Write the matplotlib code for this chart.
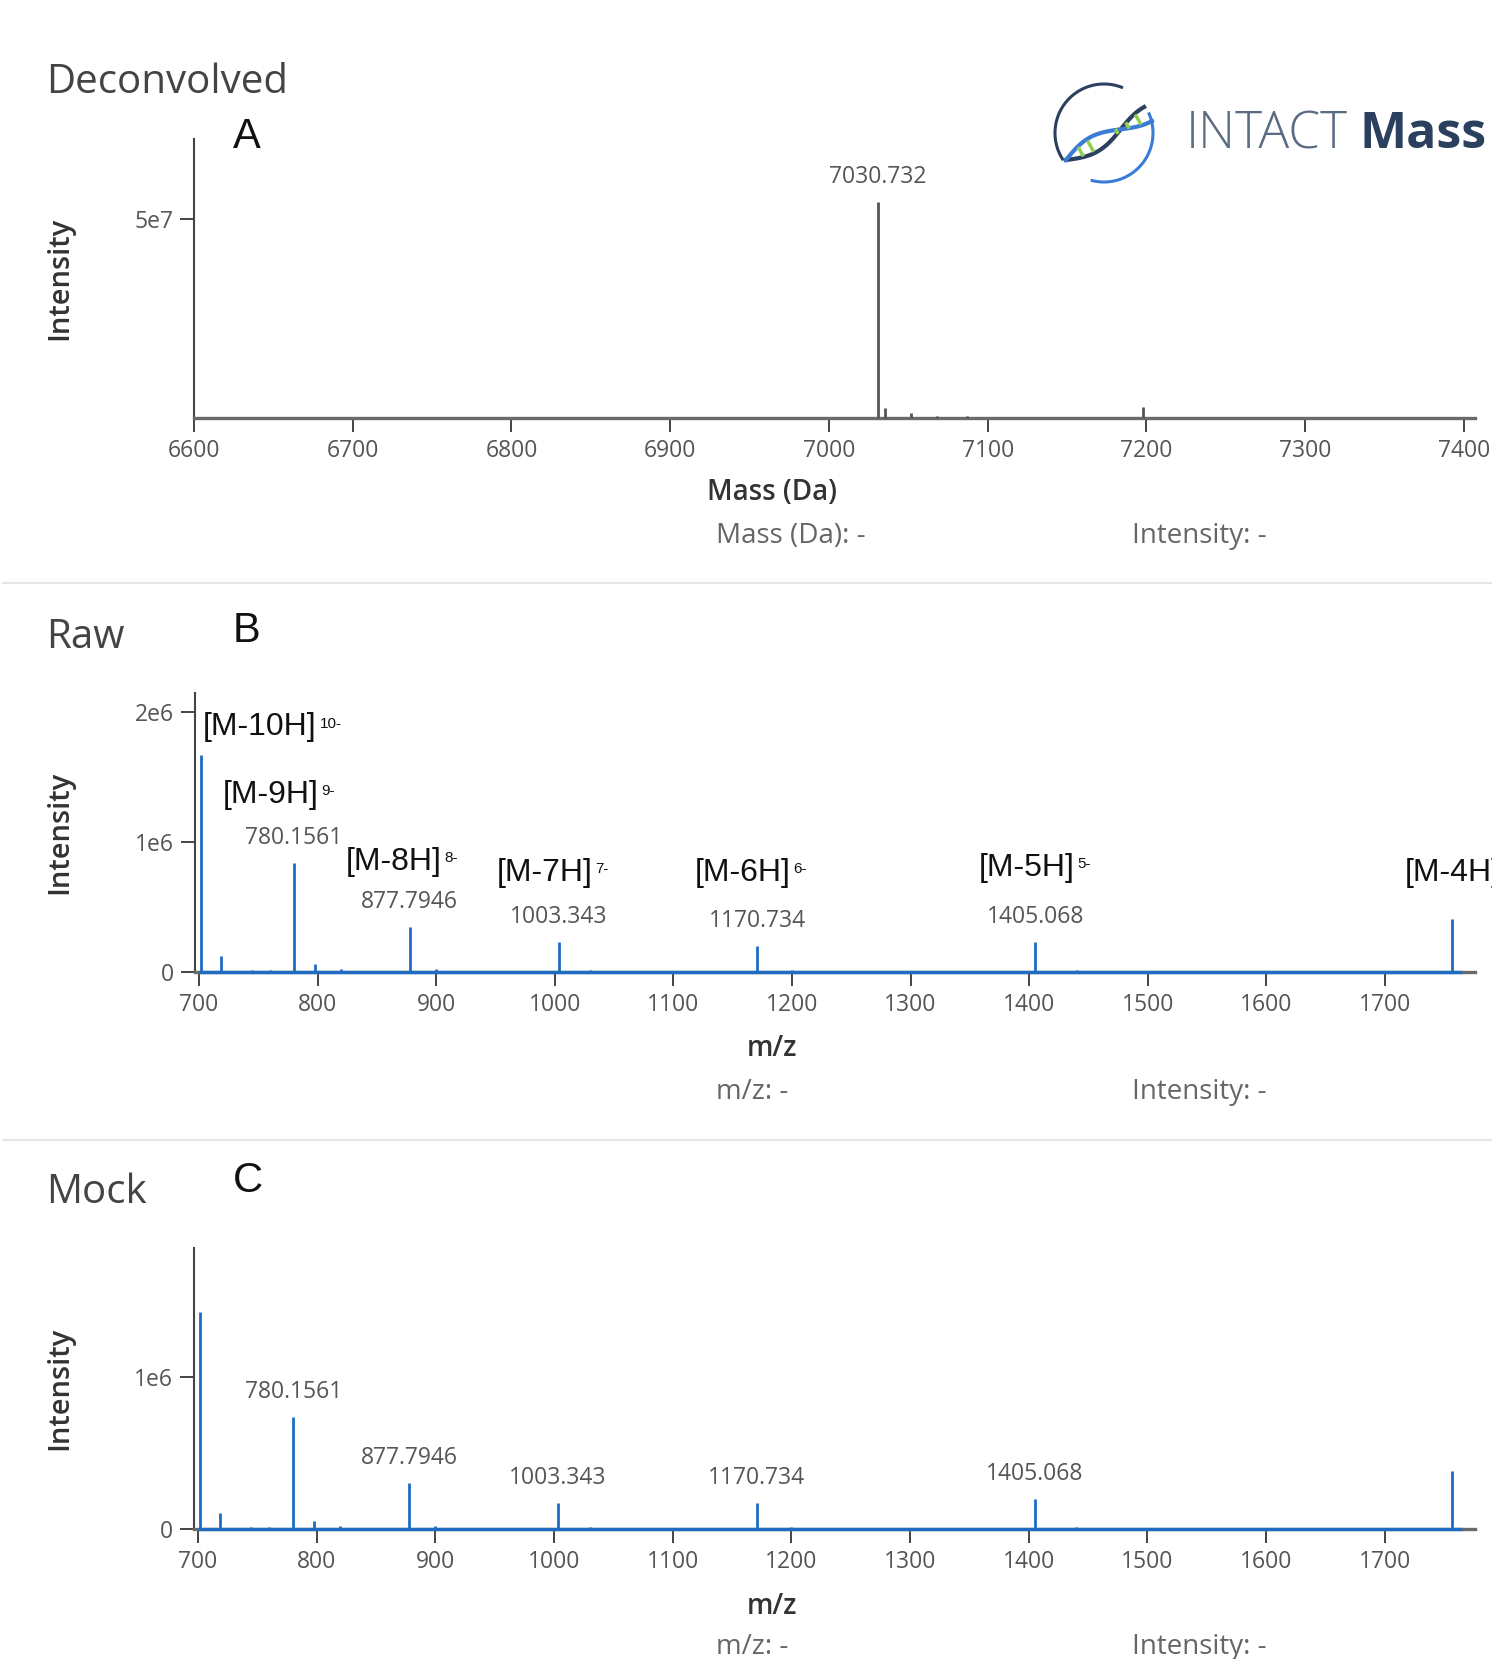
import numpy as np
import matplotlib
matplotlib.use('Agg')
import matplotlib.pyplot as plt
from matplotlib.lines import Line2D

plt.rcParams['font.family'] = ['Open Sans', 'DejaVu Sans']

W, H = 1492, 1659

# panel A: deconvolved spectrum
decon_mass = [7030.732, 7035.0, 7052.0, 7068.0, 7087.0, 7198.0]
decon_int = [5.43e7, 0.25e7, 0.12e7, 0.04e7, 0.06e7, 0.28e7]
decon_peak = 7030.732
decon_text = '7030.732'

# panels B and C: raw and mock m/z spectra
mz = [702.07, 718.5, 745.0, 760.0, 780.1561, 798.0, 820.0, 877.7946, 900.0,
      1003.343, 1030.0, 1170.734, 1200.0, 1405.068, 1440.0, 1756.6]
raw_int = [1.67e6, 0.12e6, 0.015e6, 0.015e6, 0.84e6, 0.06e6, 0.02e6, 0.35e6, 0.02e6,
           0.23e6, 0.015e6, 0.20e6, 0.015e6, 0.23e6, 0.015e6, 0.41e6]
mock_int = [1.43e6, 0.105e6, 0.015e6, 0.015e6, 0.74e6, 0.05e6, 0.02e6, 0.30e6, 0.02e6,
            0.17e6, 0.015e6, 0.17e6, 0.015e6, 0.20e6, 0.015e6, 0.38e6]
scan_range = [700, 1765]
peak_mz = [780.1561, 877.7946, 1003.343, 1170.734, 1405.068]
peak_text = ['780.1561', '877.7946', '1003.343', '1170.734', '1405.068']
charges = [10, 9, 8, 7, 6, 5, 4]

BLUE = '#1f6cc4'
TICK = '#555555'

fig = plt.figure(figsize=(W / 100, H / 100), dpi=100)


def px_axes(left, top, right, bottom):
    return fig.add_axes([left / W, 1 - bottom / H, (right - left) / W, (bottom - top) / H])


def ftext(x, y, s, **kw):
    kw.setdefault('va', 'center')
    return fig.text(x / W, 1 - y / H, s, **kw)


def style(ax):
    ax.spines['top'].set_visible(False)
    ax.spines['right'].set_visible(False)
    ax.spines['left'].set_color('#444444')
    ax.spines['left'].set_linewidth(1.5)
    ax.spines['bottom'].set_color('#6a6a6a')
    ax.spines['bottom'].set_linewidth(2.4)
    ax.tick_params(direction='out', length=10, width=1.4, color='#444444',
                   labelsize=16.5, labelcolor=TICK, pad=5)
    ax.patch.set_alpha(0)


def label_peak(ax, x, y, s):
    ax.annotate(s, (x, y), xytext=(0, 18), textcoords='offset points',
                ha='center', va='center', fontsize=16.5, color=TICK)


# ---- A: deconvolved
axA = px_axes(194, 139, 1475, 418)
style(axA)
axA.vlines(decon_mass, 0, decon_int, color='#555555', lw=2.0, clip_on=False, zorder=3)
axA.set_xlim(6600, 7407)
axA.set_ylim(0, 7.0e7)
axA.set_xticks(np.arange(6600, 7401, 100))
axA.set_yticks([5e7])
axA.set_yticklabels(['5e7'])
label_peak(axA, decon_peak, decon_int[0], decon_text)

# ---- B: raw
axB = px_axes(195, 693, 1475, 972)
style(axB)
axB.hlines(0, scan_range[0], scan_range[1], color=BLUE, lw=2.4, clip_on=False, zorder=3)
axB.vlines(mz, 0, raw_int, color=BLUE, lw=2.0, clip_on=False, zorder=3)
axB.set_xlim(696.6, 1776)
axB.set_ylim(0, 2.15e6)
axB.set_xticks(np.arange(700, 1701, 100))
axB.set_yticks([0, 1e6, 2e6])
axB.set_yticklabels(['0', '1e6', '2e6'])
for x, s in zip(peak_mz, peak_text):
    label_peak(axB, x, raw_int[mz.index(x)], s)

# charge state labels (data coords of the left/centre of each label)
charge_pos = [(703.4, 1.885e6), (720.2, 1.362e6), (824.0, 0.846e6), (951.3, 0.762e6),
              (1118.2, 0.762e6), (1357.7, 0.800e6), (1716.9, 0.762e6)]
for z, (x, y) in zip(charges, charge_pos):
    t = axB.text(x, y, f'[M-{z}H]', fontsize=23, family='Liberation Sans',
                 color='#111111', ha='left', va='center')
    if z == 4:
        # runs off the right edge, as in the original screenshot
        continue
    axB.annotate(f'{z}-', xy=(1, 1), xycoords=t, xytext=(2, -3),
                 textcoords='offset points', fontsize=11, family='Liberation Sans',
                 color='#111111', ha='left', va='top')

# ---- C: mock
axC = px_axes(194, 1248, 1475, 1529)
style(axC)
axC.hlines(0, scan_range[0], scan_range[1], color=BLUE, lw=2.4, clip_on=False, zorder=3)
axC.vlines(mz, 0, mock_int, color=BLUE, lw=2.0, clip_on=False, zorder=3)
axC.set_xlim(696.6, 1776)
axC.set_ylim(0, 1.85e6)
axC.set_xticks(np.arange(700, 1701, 100))
axC.set_yticks([0, 1e6])
axC.set_yticklabels(['0', '1e6'])
for x, s in zip(peak_mz, peak_text):
    label_peak(axC, x, mock_int[mz.index(x)], s)

# ---- panel titles, letters, axis titles, hover readouts
for name, letter, y_name, y_letter in [('Deconvolved', 'A', 83, 137),
                                        ('Raw', 'B', 638, 631),
                                        ('Mock', 'C', 1193, 1181)]:
    ftext(46, y_name, name, fontsize=29, color='#444444', ha='left')
    ftext(233, y_letter, letter, fontsize=30, family='Liberation Sans', color='#111111', ha='left')

for yc in [278, 832, 1388]:
    ftext(60, yc, 'Intensity', fontsize=21, weight='semibold', color='#333333',
          ha='center', rotation=90)

for xl, ix, y_lab, y_info in [('Mass (Da)', 'Mass (Da): -', 493, 536),
                              ('m/z', 'm/z: -', 1049, 1092),
                              ('m/z', 'm/z: -', 1607, 1647)]:
    ftext(772, y_lab, xl, fontsize=20, weight='semibold', color='#333333', ha='center')
    ftext(716, y_info, ix, fontsize=20, color='#666666', ha='left')
    ftext(1132, y_info, 'Intensity: -', fontsize=20, color='#666666', ha='left')

for ysep in [583, 1140]:
    fig.add_artist(Line2D([3 / W, 1], [1 - ysep / H] * 2, color='#e6e6e6', lw=1.5))

# ---- logo
axL = px_axes(1050, 80, 1160, 187)
axL.set_xlim(1050, 1160)
axL.set_ylim(187, 80)
axL.axis('off')
cx, cy, r = 1104, 133, 49
th = np.radians(np.linspace(69, 212, 60))
axL.plot(cx + r * np.cos(th), cy - r * np.sin(th), color='#2b3f5e', lw=2.2)
th = np.radians(np.linspace(256, 383, 60))
axL.plot(cx + r * np.cos(th), cy - r * np.sin(th), color='#3a7bd5', lw=2.2)
t = np.linspace(0, 1, 80)
x0, y0, x1, y1 = 1066, 160, 1148, 114
dx, dy = x1 - x0, y1 - y0
L = np.hypot(dx, dy)
nx, ny = -dy / L, dx / L
amp = 8 * np.sin(np.pi * 1.5 * t)
axL.plot(x0 + dx * t + nx * amp, y0 + dy * t + ny * amp, color='#2b3f5e', lw=3)
axL.plot(x0 + dx * t - nx * amp, y0 + dy * t - ny * amp, color='#3a7bd5', lw=3)
for tt in [0.18, 0.3, 0.62, 0.75, 0.88]:
    a = 8 * np.sin(np.pi * 1.5 * tt) * 0.6
    px, py = x0 + dx * tt, y0 + dy * tt
    axL.plot([px + nx * a, px - nx * a], [py + ny * a, py - ny * a], color='#8fd14f', lw=2.5)

ftext(1186, 135, 'INTACT', fontsize=37, weight='light', color='#5b6b82', ha='left')
ftext(1360, 135, 'Mass', fontsize=36, weight='bold', color='#2b3f5e', ha='left')

fig.savefig('out.png', dpi=100, facecolor='white')
plt.close()
